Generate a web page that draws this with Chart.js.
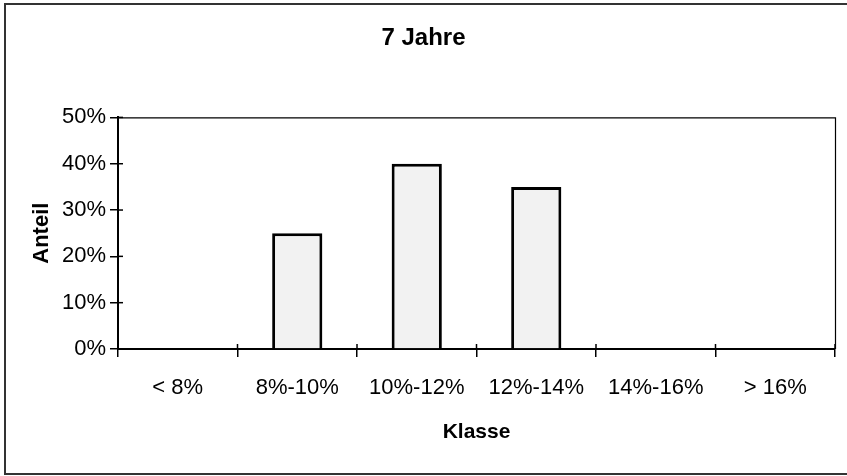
<!DOCTYPE html>
<html>
<head>
<meta charset="utf-8">
<script src="https://cdn.jsdelivr.net/npm/chart.js@4/dist/chart.umd.min.js"></script>
<style>
  html, body { margin: 0; padding: 0; background: #fff; }
  canvas { display: block; }
</style>
</head>
<body>
<canvas id="c" width="847" height="476"></canvas>
<script>
const categories = ['< 8%', '8%-10%', '10%-12%', '12%-14%', '14%-16%', '> 16%'];
const shares = [0, 25, 40, 35, 0, 0];
const yTicks = [0, 10, 20, 30, 40, 50];
const chartTitle = '7 Jahre';
const xTitle = 'Klasse';
const yTitle = 'Anteil';

const FONT = '"Liberation Sans", Arial, sans-serif';
const INK = '#000';

const framePlugin = {
  id: 'frame',
  beforeDraw(chart) {
    const ctx = chart.ctx;
    ctx.save();
    ctx.strokeStyle = '#333';
    ctx.lineWidth = 2;
    ctx.strokeRect(5, 4, 860, 470);
    ctx.restore();
  },
  afterDraw(chart) {
    const ctx = chart.ctx;
    const a = chart.chartArea;
    ctx.save();
    ctx.strokeStyle = INK;
    ctx.lineWidth = 1.2;
    ctx.beginPath();
    ctx.moveTo(a.left, a.top + 0.5);
    ctx.lineTo(a.right + 0.5, a.top + 0.5);
    ctx.lineTo(a.right + 0.5, a.bottom);
    ctx.stroke();
    // inward parts of crossing ticks
    ctx.lineWidth = 1.5;
    const ys = chart.scales.y;
    ys.ticks.forEach((t, i) => {
      const p = ys.getPixelForTick(i);
      ctx.beginPath();
      ctx.moveTo(a.left, p);
      ctx.lineTo(a.left + 5, p);
      ctx.stroke();
    });
    const xs = chart.scales.x;
    const step = xs.getPixelForTick(1) - xs.getPixelForTick(0);
    for (let i = 0; i <= xs.ticks.length; i++) {
      const p = i < xs.ticks.length ? xs.getPixelForTick(i) - step / 2 : a.right;
      ctx.beginPath();
      ctx.moveTo(p, a.bottom);
      ctx.lineTo(p, a.bottom - 5);
      ctx.stroke();
    }
    ctx.restore();
  }
};

new Chart(document.getElementById('c'), {
  type: 'bar',
  data: {
    labels: categories,
    datasets: [{
      data: shares,
      backgroundColor: '#f2f2f2',
      borderColor: '#000',
      borderWidth: 3,
      borderSkipped: 'bottom',
      categoryPercentage: 1,
      barPercentage: 0.42
    }]
  },
  options: {
    responsive: false,
    animation: false,
    devicePixelRatio: 1,
    layout: { padding: { left: 0, right: 0, top: 0, bottom: 0 } },
    plugins: {
      legend: { display: false },
      tooltip: { enabled: false },
      title: {
        display: true,
        text: chartTitle,
        color: INK,
        font: { family: FONT, size: 24, weight: 'bold', lineHeight: 1.2 },
        padding: { top: 24, bottom: 64.6 }
      }
    },
    scales: {
      x: {
        afterFit(s) { s.height = 127; },
        grid: {
          display: true,
          drawOnChartArea: false,
          drawTicks: true,
          tickLength: 8,
          color: INK,
          lineWidth: 1.5,
          offset: true
        },
        border: { display: true, color: INK, width: 2 },
        ticks: {
          color: INK,
          font: { family: FONT, size: 22, lineHeight: 1.2 },
          padding: 18,
          maxRotation: 0,
          autoSkip: false
        },
        title: {
          display: true,
          text: xTitle,
          color: INK,
          font: { family: FONT, size: 21, weight: 'bold', lineHeight: 1.2 },
          padding: { top: 0, bottom: 31 }
        }
      },
      y: {
        min: 0,
        max: 50,
        afterFit(s) { s.width = 118; },
        afterBuildTicks(s) { s.ticks = yTicks.map(v => ({ value: v })); },
        grid: {
          display: true,
          drawOnChartArea: false,
          drawTicks: true,
          tickLength: 8,
          color: INK,
          lineWidth: 1.5
        },
        border: { display: true, color: INK, width: 2 },
        ticks: {
          color: INK,
          font: { family: FONT, size: 22, lineHeight: 1.2 },
          padding: 4,
          callback: v => v + '%'
        },
        title: {
          display: true,
          text: yTitle,
          color: INK,
          font: { family: FONT, size: 22, weight: 'bold', lineHeight: 1.2 },
          padding: { top: 29, bottom: 0 }
        }
      },
      spacer: {
        type: 'linear',
        position: 'right',
        afterFit(s) { s.width = 12; },
        grid: { display: false },
        border: { display: false },
        ticks: { display: false },
        title: { display: false }
      }
    }
  },
  plugins: [framePlugin]
});
</script>
</body>
</html>
